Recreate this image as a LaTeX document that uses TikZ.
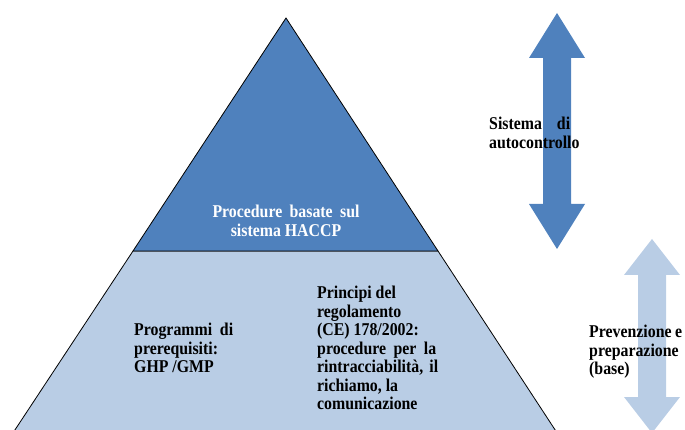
\documentclass[tikz,border=0pt]{standalone}
\usepackage{fontspec}
\setmainfont{Liberation Serif}[FakeStretch=0.88]
\definecolor{topblue}{HTML}{4F81BD}
\definecolor{baseblue}{HTML}{B9CDE5}
\tikzset{
  pyrtext/.style={font=\fontsize{18}{18.5}\selectfont\bfseries,inner sep=0pt,align=left,anchor=north west},
}
\begin{document}
\begin{tikzpicture}[x=1pt,y=-1pt]
\useasboundingbox (0,0) rectangle (685,430);
\clip (0,0) rectangle (685,430);
\pgfmathsetmacro{\apexx}{286}
\pgfmathsetmacro{\apexy}{18}
\pgfmathsetmacro{\cuty}{251}
% pyramid
\draw[black,line width=0.8pt,fill=baseblue] (133,\cuty) -- (438,\cuty) -- (565,445) -- (5,445) -- cycle;
\draw[black,line width=0.8pt,fill=topblue] (\apexx,\apexy) -- (438,\cuty) -- (133,\cuty) -- cycle;
% arrows
\fill[topblue] (557,13) -- ++(28,45) -- ++(-14,0) -- ++(0,146) -- ++(14,0) -- ++(-28,45) -- ++(-28,-45) -- ++(14,0) -- ++(0,-146) -- ++(-14,0) -- cycle;
\fill[baseblue] (652,239) -- ++(28,36) -- ++(-14,0) -- ++(0,122) -- ++(14,0) -- ++(-28,36) -- ++(-28,-36) -- ++(14,0) -- ++(0,-122) -- ++(-14,0) -- cycle;
% texts
\node[pyrtext,align=center,anchor=center,text=white] (haccp) at (286,221) {\makebox[147pt][s]{Procedure basate sul}\\sistema HACCP};
\node[pyrtext] (prereq) at (134,323) {\makebox[99pt][s]{Programmi di}\\prerequisiti:\\GHP /GMP};
\node[pyrtext] (reg) at (317,286) {Principi del\\regolamento\\(CE) 178/2002:\\\makebox[119pt][s]{procedure per la}\\\makebox[121pt][s]{rintracciabilità, il}\\richiamo, la\\comunicazione};
\node[pyrtext] (auto) at (489,117) {\makebox[81pt][s]{Sistema di}\\autocontrollo};
\node[pyrtext] (prev) at (589,325) {\makebox[93pt][s]{Prevenzione e}\\preparazione\\(base)};
\end{tikzpicture}
\end{document}
